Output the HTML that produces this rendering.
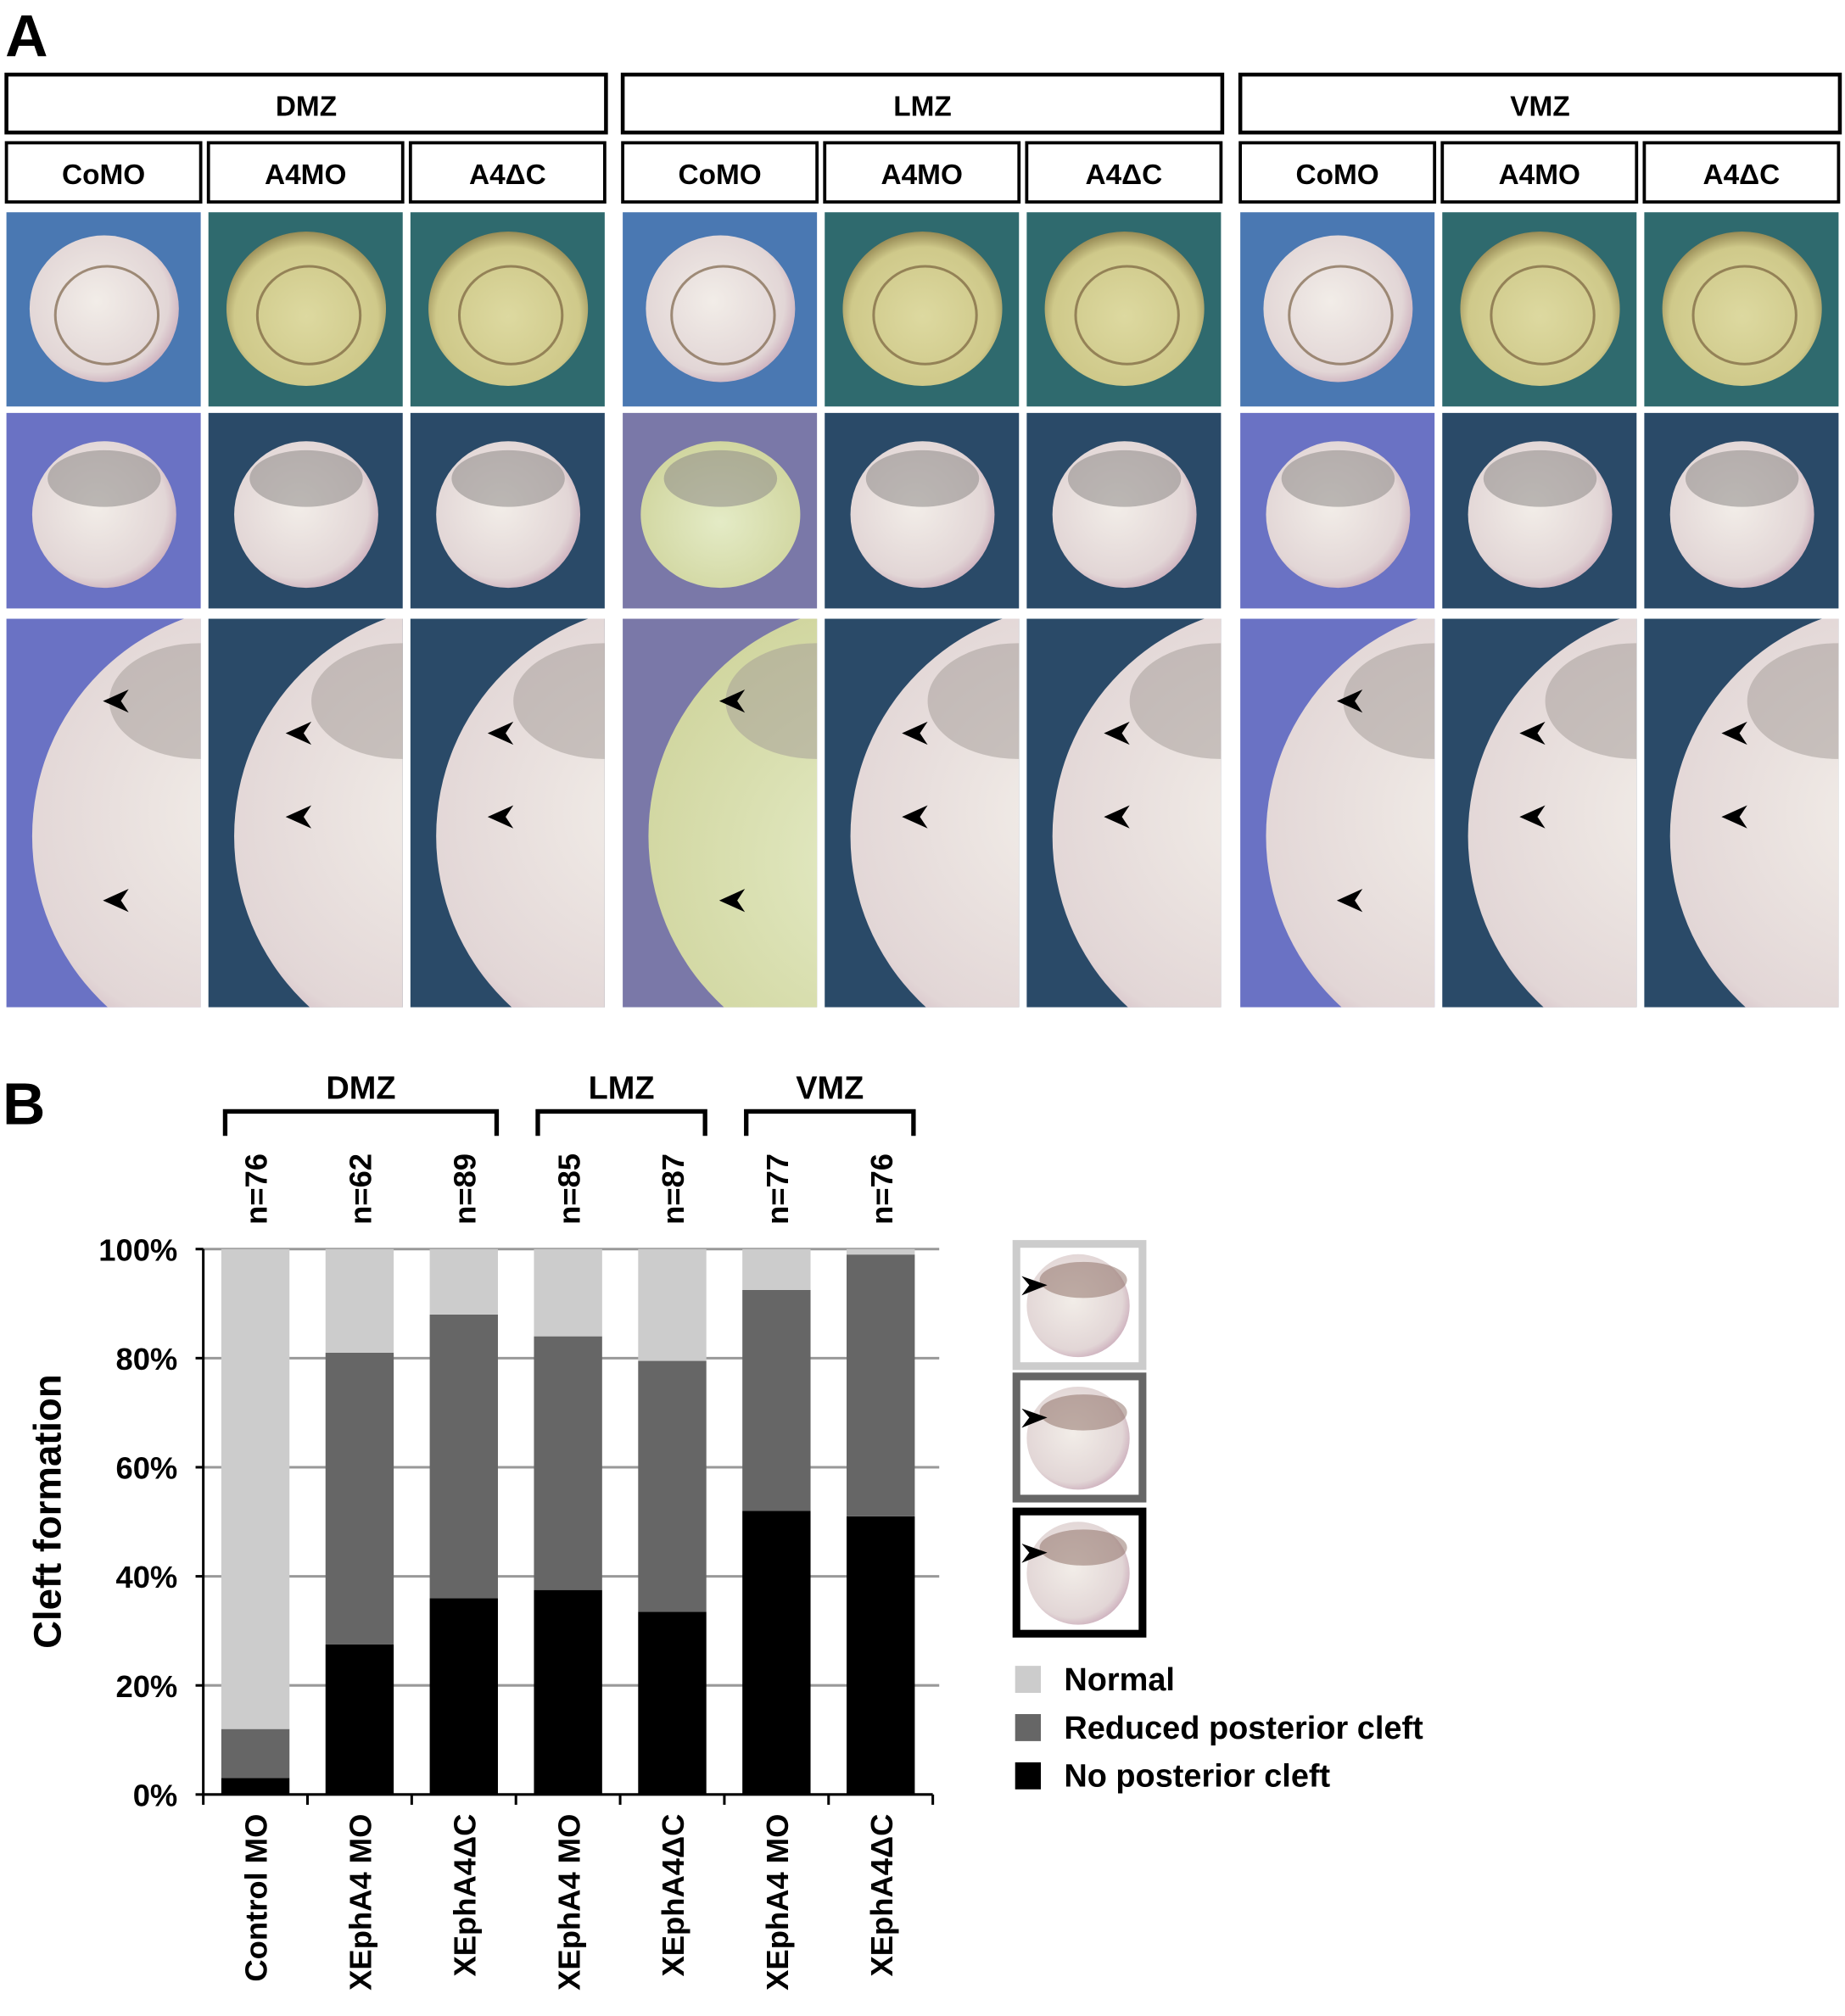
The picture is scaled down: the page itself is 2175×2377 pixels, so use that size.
<!DOCTYPE html>
<html><head><meta charset="utf-8"><style>
html,body{margin:0;padding:0;background:#fff}
svg{display:block}
text{font-family:"Liberation Sans",Arial,sans-serif;font-weight:bold;fill:#000}
</style></head><body>
<svg id="fig" width="2175" height="2377" viewBox="0 0 1434 1567.2" preserveAspectRatio="none" xmlns="http://www.w3.org/2000/svg">
<defs>
<radialGradient id="embW" cx="45%" cy="45%" r="60%"><stop offset="0" stop-color="#f2ede8"/><stop offset="0.8" stop-color="#e2d6d6"/><stop offset="1" stop-color="#c9a8b8"/></radialGradient>
<radialGradient id="embY" cx="50%" cy="55%" r="60%"><stop offset="0" stop-color="#ddd9a0"/><stop offset="0.75" stop-color="#cfc98a"/><stop offset="1" stop-color="#7a6a3a"/></radialGradient>
<radialGradient id="embG" cx="50%" cy="55%" r="60%"><stop offset="0" stop-color="#e4ebc6"/><stop offset="1" stop-color="#cfd49c"/></radialGradient>
</defs>
<text x="4" y="44" font-size="46">A</text>
<g id="panelA"></g>
<text x="2" y="874" font-size="46">B</text>
<g id="chart"></g>
<g id="legend"></g>
</svg>
<script>
const NS='http://www.w3.org/2000/svg';
const categories=['Control MO','XEphA4 MO','XEphA4\u0394C','XEphA4 MO','XEphA4\u0394C','XEphA4 MO','XEphA4\u0394C'];
const nLabels=['n=76','n=62','n=89','n=85','n=87','n=77','n=76'];
const noCleft=[3,27.5,36,37.5,33.5,52,51];
const reduced=[9,53.5,52,46.5,46,40.5,48];
const normal=[88,19,12,16,20.5,7.5,1];
const yTicks=[0,20,40,60,80,100];
const groups=['DMZ','LMZ','VMZ'];
const groupSpans=[[0,2],[3,4],[5,6]];
const colors=['#000000','#666666','#cccccc'];
const seriesNames=['No posterior cleft','Reduced posterior cleft','Normal'];

function mk(tag,attrs,parent,txt){const e=document.createElementNS(NS,tag);for(const k in attrs)e.setAttribute(k,attrs[k]);if(txt!==undefined)e.textContent=txt;parent.appendChild(e);return e;}

// ---- Panel A ----
const pa=document.getElementById('panelA');
const bigX=[5,484,964], bigW=466;
const zoneNames=['DMZ','LMZ','VMZ'];
const subNames=['CoMO','A4MO','A4\u0394C'];
const subX=[0,157,314], subW=151;
for(let z=0;z<3;z++){
  const b=mk('rect',{x:bigX[z],y:58,width:bigW,height:45,fill:'#fff',stroke:'#000','stroke-width':3},pa);
  
  
  mk('text',{x:bigX[z]+bigW/2,y:90,'font-size':22,'text-anchor':'middle'},pa,zoneNames[z]);
  for(let s=0;s<3;s++){
    const x=bigX[z]+subX[s];
    const r=mk('rect',{x:x,y:111,width:subW,height:46,fill:'#fff',stroke:'#000','stroke-width':2.5},pa);
    
    
    mk('text',{x:x+subW/2,y:143,'font-size':22,'text-anchor':'middle'},pa,subNames[s]);
    const co=s===0;
    // row1
    const bg1=co?'#4a78b2':'#2f6a6e';
    const p1=mk('rect',{x:x,y:165,width:subW,height:151,fill:bg1},pa);
    
    
    mk('ellipse',{cx:x+76,cy:240,rx:co?58:62,ry:co?57:60,fill:co?'url(#embW)':'url(#embY)'},pa);
    mk('ellipse',{cx:x+78,cy:245,rx:40,ry:38,fill:'none',stroke:'#6a5030','stroke-width':2,opacity:0.6},pa);
    // row2
    const bg2=co?(z===1?'#7a78a8':'#6a72c4'):'#2a4a68';
    const p2=mk('rect',{x:x,y:321,width:subW,height:152,fill:bg2},pa);
    
    
    mk('ellipse',{cx:x+76,cy:400,rx:z===1&&co?62:56,ry:57,fill:(z===1&&co)?'url(#embG)':'url(#embW)'},pa);
    mk('ellipse',{cx:x+76,cy:372,rx:44,ry:22,fill:'#8e8a88',opacity:0.55},pa);
    // row3
    const p3=mk('rect',{x:x,y:481,width:subW,height:302,fill:bg2},pa);
    
    
    const cp=mk('clipPath',{id:'c'+z+s},pa);
    mk('rect',{x:x,y:481,width:subW,height:302},cp);
    mk('circle',{cx:x+200,cy:650,r:180,fill:(z===1&&co)?'url(#embG)':'url(#embW)','clip-path':'url(#c'+z+s+')'},pa);
    mk('ellipse',{cx:x+150,cy:545,rx:70,ry:45,fill:'#a29a96',opacity:0.5,'clip-path':'url(#c'+z+s+')'},pa);
    const ays=[[540,690],[570,635],[600,0]];
    for(const ay of (co?[545,700]:[570,635])){
      const ax=x+95+(co?0:-15);
      mk('path',{d:`M${ax-20},${ay} L${ax},${ay-9} L${ax-6},${ay} L${ax},${ay+9} Z`,fill:'#000'},pa);
    }
  }
}

// ---- Panel B chart ----
const g=document.getElementById('chart');
const X0=158,X1=725,Y0=1395,Y100=971;
const nCat=categories.length, slot=(X1-X0)/nCat, barW=53;
const xc=i=>X0+slot*(i+0.5);
const y=v=>Y0-(Y0-Y100)*v/100;
yTicks.forEach(t=>{
  if(t>0){const gl=mk('line',{x1:X0,x2:X1+5,y1:y(t),y2:y(t),stroke:'#999','stroke-width':2},g);
  
  }
  mk('line',{x1:X0-6,x2:X0,y1:y(t),y2:y(t),stroke:'#000','stroke-width':2},g);
  const tl=mk('text',{x:X0-20,y:y(t)+9,'font-size':24,'text-anchor':'end'},g,t+'%');
  
  
});
const series=[noCleft,reduced,normal];
categories.forEach((c,i)=>{
  let base=0;
  series.forEach((arr,k)=>{
    const v=arr[i];
    const r=mk('rect',{x:xc(i)-barW/2,y:y(base+v),width:barW,height:y(base)-y(base+v),fill:colors[k]},g);
    
    
    base+=v;
  });
  const cx=xc(i);
  const cl=mk('text',{transform:`translate(${cx+9},1410) rotate(-90)`,'font-size':24,'text-anchor':'end'},g,c);
  
  
  const nl=mk('text',{transform:`translate(${cx+9},952) rotate(-90)`,'font-size':24,'text-anchor':'start'},g,nLabels[i]);
  
  
});
for(let i=0;i<=nCat;i++) mk('line',{x1:X0+slot*i,x2:X0+slot*i,y1:Y0,y2:Y0+8,stroke:'#000','stroke-width':2},g);
const ax=mk('line',{x1:X0,x2:X0,y1:Y100,y2:Y0,stroke:'#000','stroke-width':2},g);


const axx=mk('line',{x1:X0,x2:X1,y1:Y0,y2:Y0,stroke:'#000','stroke-width':2},g);


const yt=mk('text',{transform:'translate(47,1175) rotate(-90)','font-size':30,'text-anchor':'middle'},g,'Cleft formation');


groupSpans.forEach((sp,k)=>{
  const a=xc(sp[0])-barW/2+3, b=xc(sp[1])+barW/2-1;
  const br=mk('path',{d:`M${a},883 L${a},864 L${b},864 L${b},883`,fill:'none',stroke:'#000','stroke-width':3.5},g);
  
  
  const gt=mk('text',{x:(a+b)/2,y:854,'font-size':25,'text-anchor':'middle'},g,groups[k]);
  
  
});

// ---- Legend ----
const L=document.getElementById('legend');
const boxStroke=['#cccccc','#666666','#000000'];
const boxY=[967,1070,1175];
boxY.forEach((by,k)=>{
  const r=mk('rect',{x:790,y:by,width:98,height:95,fill:'#fff',stroke:boxStroke[k],'stroke-width':6},L);
  
  
  mk('circle',{cx:838,cy:by+48,r:40,fill:'url(#embW)'},L);
  mk('ellipse',{cx:842,cy:by+28,rx:34,ry:14,fill:'#8a6a60',opacity:0.5},L);
  mk('path',{d:`M794,${by+25} L814,${by+32} L794,${by+40} L800,${by+32}Z`,fill:'#000'},L);
});
const legOrder=[2,1,0];
legOrder.forEach((k,j)=>{
  const yy=1295+j*37.5;
  const sw=mk('rect',{x:789,y:yy,width:20,height:21,fill:colors[k]},L);
  
  
  const t=mk('text',{x:827,y:yy+19,'font-size':25},L,seriesNames[k]);
  
  
});
</script>
</body></html>
